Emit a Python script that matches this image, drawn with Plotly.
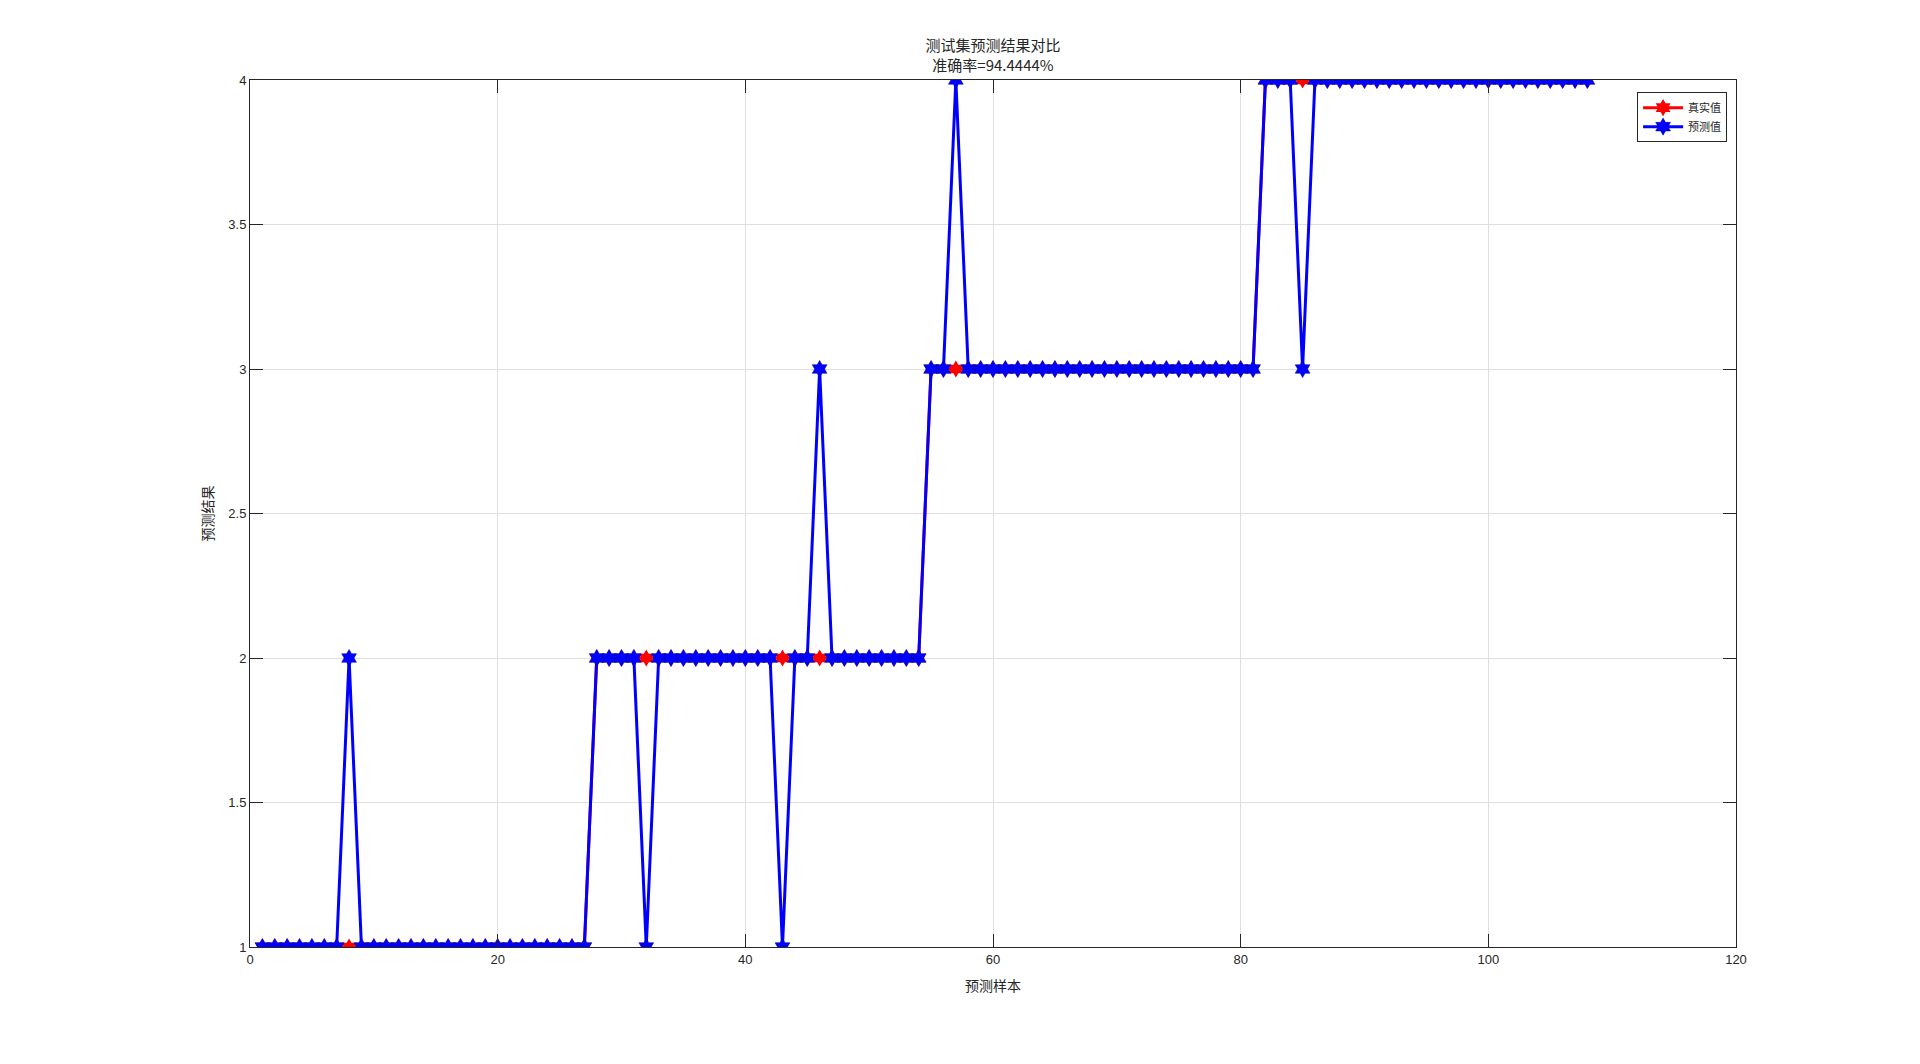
import plotly.graph_objects as go

samples = list(range(1, 109))
true_vals = [1] * 27 + [2] * 27 + [3] * 27 + [4] * 27
pred_vals = list(true_vals)
# misclassified samples (index: predicted class)
errors = {8: 2, 32: 1, 43: 1, 46: 3, 57: 4, 85: 3}
for k, v in errors.items():
    pred_vals[k - 1] = v

title_line1 = "测试集预测结果对比"
title_line2 = "准确率=94.4444%"
x_ticks = [0, 20, 40, 60, 80, 100, 120]
y_ticks = [1, 1.5, 2, 2.5, 3, 3.5, 4]

cjk = "Noto Sans CJK SC"
num_font = "Liberation Sans, Arial, sans-serif"

fig = go.Figure()
fig.add_trace(go.Scatter(
    x=samples, y=true_vals, mode="lines+markers", name="真实值",
    line=dict(color="#ff0000", width=3),
    marker=dict(symbol="hexagram", size=13, color="#ff0000"),
))
fig.add_trace(go.Scatter(
    x=samples, y=pred_vals, mode="lines+markers", name="预测值",
    line=dict(color="#0000ff", width=3),
    marker=dict(symbol="hexagram", size=13, color="#0000ff",
                line=dict(color="#00008b", width=0.5)),
))

axis_common = dict(
    showline=True, linecolor="#262626", linewidth=1, mirror="ticks",
    ticks="inside", ticklen=13, tickcolor="#262626",
    showgrid=True, gridcolor="#dfdfdf", gridwidth=1, zeroline=False,
    tickfont=dict(family=num_font, size=13, color="#262626"),
)

L, R, T, B = 242, 192, 72, 125
fig.update_layout(
    width=1920, height=1064,
    paper_bgcolor="white", plot_bgcolor="white",
    margin=dict(l=L, r=R, t=T, b=B),
    title=dict(
        text=title_line1 + "<br>" + title_line2,
        x=(L + (1920 - R)) / 2 / 1920, xanchor="center",
        y=1 - 43 / 1064, yanchor="top",
        font=dict(family=cjk, size=15, color="#262626"),
    ),
    xaxis=dict(range=[0, 120], tickvals=x_ticks,
               title=dict(text="预测样本", font=dict(family=cjk, size=14, color="#262626"), standoff=15),
               **axis_common),
    yaxis=dict(range=[1, 4], tickvals=y_ticks,
               title=dict(text="预测结果", font=dict(family=cjk, size=14, color="#262626"), standoff=11),
               **axis_common),
    legend=dict(
        x=0.994, xanchor="right", y=0.986, yanchor="top",
        bgcolor="white", bordercolor="#262626", borderwidth=1,
        font=dict(family=cjk, size=11, color="#262626"),
        itemwidth=40, tracegroupgap=0,
    ),
    showlegend=True,
)

fig.write_html("out.html")
